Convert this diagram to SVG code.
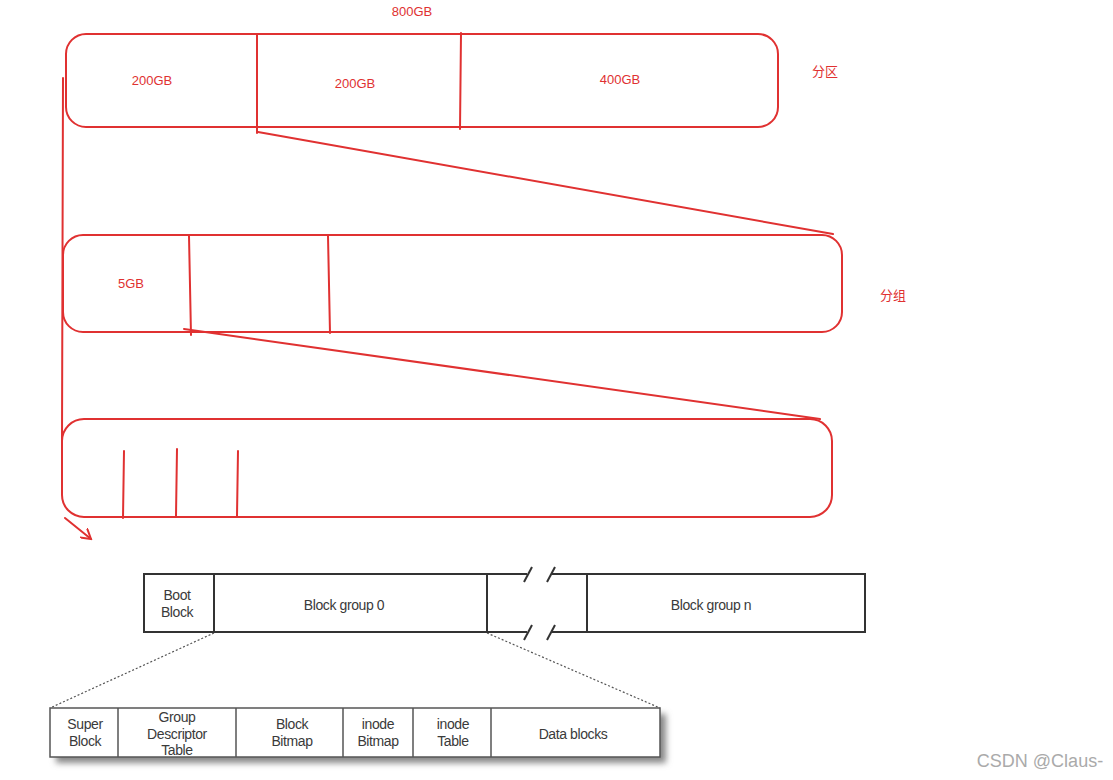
<svg xmlns="http://www.w3.org/2000/svg" width="1113" height="780" viewBox="0 0 1113 780">
<defs>
<style>
.r{fill:none;stroke:#e03131;stroke-width:2;stroke-linecap:round}
.rt{fill:#e03131;font-family:"Liberation Sans","Noto Sans CJK SC",sans-serif;font-size:13px;text-anchor:middle}
.k{fill:#fff;stroke:#333;stroke-width:2}
.kl{fill:none;stroke:#333;stroke-width:2}
.kt{fill:#3a3a3a;font-family:"Liberation Sans",Arial,sans-serif;font-size:14px;text-anchor:middle;letter-spacing:-0.4px}
.dot{fill:none;stroke:#555;stroke-width:1.2;stroke-dasharray:2 2}
</style>
<filter id="sh" x="-5%" y="-20%" width="110%" height="160%"><feGaussianBlur stdDeviation="3"/></filter>
<marker id="ah" viewBox="0 0 12 12" refX="10" refY="6" markerWidth="12" markerHeight="12" markerUnits="userSpaceOnUse" orient="auto"><path d="M0,0 L10,6 L0,12" fill="none" stroke="#e03131" stroke-width="2"/></marker>
</defs>
<rect width="1113" height="780" fill="#fff"/>

<g id="partition">
<rect class="r" x="66" y="34" width="712" height="93" rx="20"/>
<line class="r" x1="257" y1="35" x2="257" y2="133"/>
<line class="r" x1="461" y1="33" x2="460" y2="129"/>
<text class="rt" x="412" y="16">800GB</text>
<text class="rt" x="152" y="85">200GB</text>
<text class="rt" x="355" y="88">200GB</text>
<text class="rt" x="620" y="84">400GB</text>
<text class="rt" x="825" y="76">分区</text>
</g>

<g id="group">
<rect class="r" x="63" y="235" width="779" height="97" rx="20"/>
<line class="r" x1="189" y1="236" x2="191" y2="335"/>
<line class="r" x1="328" y1="236" x2="330" y2="333"/>
<text class="rt" x="131" y="288">5GB</text>
<text class="rt" x="893" y="300">分组</text>
</g>

<g id="block">
<rect class="r" x="62" y="419" width="770" height="98" rx="22"/>
<line class="r" x1="124" y1="451" x2="123" y2="518"/>
<line class="r" x1="177" y1="449" x2="176" y2="516"/>
<line class="r" x1="238" y1="451" x2="237" y2="516"/>
</g>

<g id="connectors">
<line class="r" x1="258" y1="132" x2="833" y2="234"/>
<line class="r" x1="184" y1="329" x2="820" y2="419"/>
<line class="r" x1="63" y1="78" x2="62" y2="440"/>
<line class="r" x1="65" y1="518" x2="91" y2="539" marker-end="url(#ah)"/>
<line class="dot" x1="214" y1="633" x2="50" y2="708"/>
<line class="dot" x1="487" y1="633" x2="660" y2="708"/>
</g>

<g id="disk">
<rect class="k" x="144" y="574" width="343" height="58"/>
<line class="kl" x1="214" y1="574" x2="214" y2="632"/>
<rect class="k" x="587" y="574" width="278" height="58"/>
<line class="kl" x1="487" y1="574" x2="527" y2="574"/>
<line class="kl" x1="552" y1="574" x2="587" y2="574"/>
<line class="kl" x1="487" y1="632" x2="527" y2="632"/>
<line class="kl" x1="552" y1="632" x2="587" y2="632"/>
<line class="kl" x1="524" y1="582" x2="532" y2="567"/>
<line class="kl" x1="547" y1="582" x2="555" y2="567"/>
<line class="kl" x1="524" y1="640" x2="532" y2="625"/>
<line class="kl" x1="547" y1="640" x2="555" y2="625"/>
<text class="kt" y="600"><tspan x="177">Boot</tspan><tspan x="177" dy="17">Block</tspan></text>
<text class="kt" x="344" y="610">Block group 0</text>
<text class="kt" x="711" y="610">Block group n</text>
</g>

<g id="group-detail">
<rect x="56" y="714" width="610" height="49" fill="#888" filter="url(#sh)"/>
<rect x="50" y="708" width="610" height="49" fill="#fff" stroke="#555" stroke-width="1.5"/>
<g stroke="#555" stroke-width="1.5">
<line x1="118" y1="708" x2="118" y2="757"/>
<line x1="236" y1="708" x2="236" y2="757"/>
<line x1="343" y1="708" x2="343" y2="757"/>
<line x1="413" y1="708" x2="413" y2="757"/>
<line x1="491" y1="708" x2="491" y2="757"/>
</g>
<text class="kt" y="729"><tspan x="85">Super</tspan><tspan x="85" dy="17">Block</tspan></text>
<text class="kt" y="722"><tspan x="177">Group</tspan><tspan x="177" dy="16.5">Descriptor</tspan><tspan x="177" dy="16.5">Table</tspan></text>
<text class="kt" y="729"><tspan x="292">Block</tspan><tspan x="292" dy="17">Bitmap</tspan></text>
<text class="kt" y="729"><tspan x="378">inode</tspan><tspan x="378" dy="17">Bitmap</tspan></text>
<text class="kt" y="729"><tspan x="453">inode</tspan><tspan x="453" dy="17">Table</tspan></text>
<text class="kt" x="573" y="739">Data blocks</text>
</g>

<text x="1040" y="767" font-family="Liberation Sans,Arial,sans-serif" font-size="18" fill="#aaa" text-anchor="middle">CSDN @Claus-</text>
</svg>
